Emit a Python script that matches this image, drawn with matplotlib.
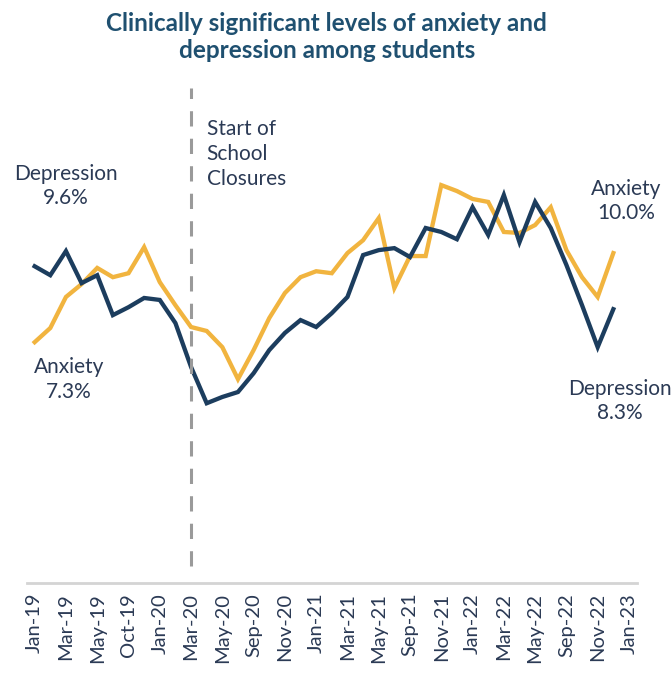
import matplotlib
matplotlib.use("Agg")
import matplotlib.pyplot as plt

plt.rcParams["font.family"] = ["Lato", "DejaVu Sans"]

# survey months (every second one labelled on the axis)
months = ["Jan-19", "Feb-19", "Mar-19", "Apr-19", "May-19", "Sep-19", "Oct-19", "Nov-19",
          "Jan-20", "Feb-20", "Mar-20", "Apr-20", "May-20", "Jun-20", "Sep-20", "Oct-20",
          "Nov-20", "Dec-20", "Jan-21", "Feb-21", "Mar-21", "Apr-21", "May-21", "Jun-21",
          "Sep-21", "Oct-21", "Nov-21", "Dec-21", "Jan-22", "Feb-22", "Mar-22", "Apr-22",
          "May-22", "Jun-22", "Sep-22", "Oct-22", "Nov-22", "Dec-22", "Jan-23"]

depression = [9.6, 9.33, 10.06, 9.09, 9.33, 8.12, 8.36, 8.64, 8.58, 7.88,
              6.55, 5.45, 5.64, 5.79, 6.36, 7.06, 7.58, 7.97, 7.76, 8.18,
              8.67, 9.94, 10.09, 10.15, 9.88, 10.76, 10.64, 10.42, 11.39, 10.55,
              11.76, 10.33, 11.55, 10.76, 9.64, 8.42, 7.15, 8.3]

anxiety = [7.3, 7.73, 8.67, 9.06, 9.55, 9.27, 9.39, 10.18, 9.12, 8.42,
           7.76, 7.64, 7.15, 6.18, 7.06, 8.03, 8.79, 9.27, 9.45, 9.39,
           10.0, 10.39, 11.06, 8.94, 9.91, 9.91, 12.06, 11.88, 11.64, 11.55,
           10.64, 10.61, 10.85, 11.39, 10.09, 9.27, 8.67, 10.0]

closure_month = "Mar-20"

navy = "#1c3d5e"
gold = "#f1b43f"
text_col = "#2b3a55"

fig = plt.figure(figsize=(6.71, 6.86), dpi=100)
ax = fig.add_axes([0.040, 0.150, 0.909, 0.7216])

x = list(range(len(months)))
ax.plot(x[:len(anxiety)], anxiety, color=gold, lw=3.1, solid_joinstyle="miter")
ax.plot(x[:len(depression)], depression, color=navy, lw=3.1, solid_joinstyle="miter")

cx = months.index(closure_month)
ax.axvline(cx, ymin=0.035, ymax=1.0, color="#9a9a9a", lw=2.2, ls=(0, (5, 4)))

ax.set_xlim(-0.5, len(months) - 0.5)
ax.set_ylim(0, 15)
ax.set_xticks(x[::2])
ax.set_xticklabels(months[::2], rotation=90, fontsize=14.5, color=text_col)
ax.tick_params(axis="x", length=0, pad=7)
ax.set_yticks([])
for s in ["top", "left", "right"]:
    ax.spines[s].set_visible(False)
ax.spines["bottom"].set_color("#d4d4d4")
ax.spines["bottom"].set_linewidth(2)

fig.text(0.487, 0.946, "Clinically significant levels of anxiety and\ndepression among students",
         ha="center", va="center", fontsize=17.5, fontweight="bold", color="#1f5070",
         linespacing=1.25)

lab = dict(fontsize=15, color=text_col, ha="center", va="center", linespacing=1.3)
ax.text(2.0, 12.03, "Depression\n%.1f%%" % depression[0], **lab)
ax.text(2.2, 6.18, "Anxiety\n%.1f%%" % anxiety[0], **lab)
ax.text(37.8, 11.58, "Anxiety\n%.1f%%" % anxiety[-1], **lab)
ax.text(37.4, 5.52, "Depression\n%.1f%%" % depression[-1], **lab)
ax.text(cx + 1.0, 13.0, "Start of\nSchool\nClosures", fontsize=15, color=text_col,
        ha="left", va="center", linespacing=1.3)

fig.savefig("out.png", dpi=100)
